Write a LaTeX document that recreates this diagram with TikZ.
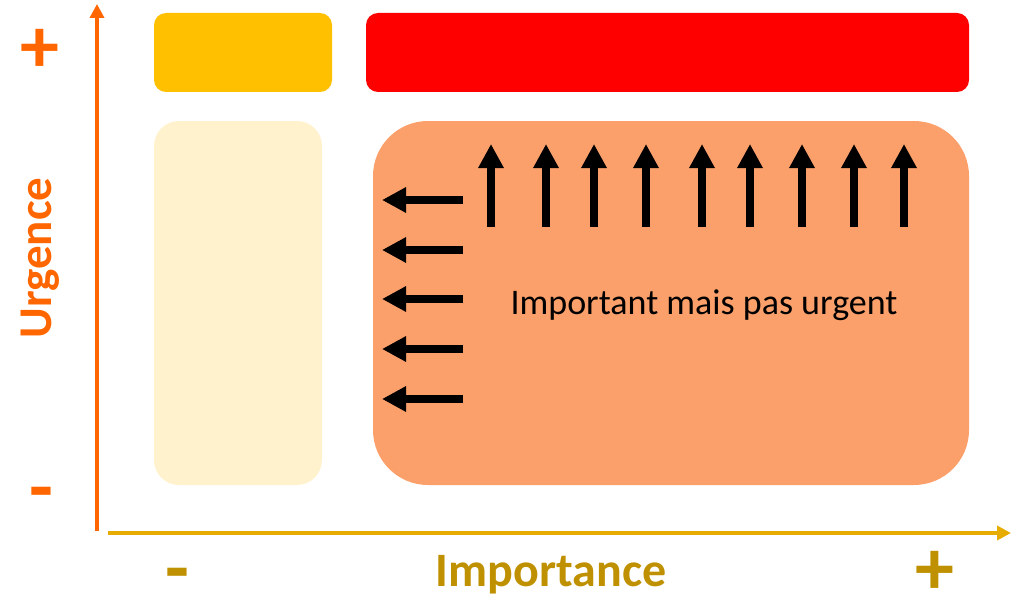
\documentclass[tikz,border=0pt]{standalone}
\usepackage{fontspec}
\setmainfont{Carlito}
\usetikzlibrary{arrows.meta}
\definecolor{axisV}{HTML}{FF6600}
\definecolor{axisH}{HTML}{E6AC00}
\definecolor{labH}{HTML}{BF9000}
\definecolor{boxY}{HTML}{FFC000}
\definecolor{boxR}{HTML}{FF0000}
\definecolor{boxL}{HTML}{FFF2CC}
\definecolor{boxO}{HTML}{FBA06A}
\tikzset{
  blackarrow/.style={line width=8pt,-{Triangle[width=24pt,length=24pt]}},
  axisarrow/.style={line width=4pt,-{Triangle[width=14pt,length=14pt]}},
  vlab/.style={text=axisV,font=\bfseries\fontsize{47}{47}\selectfont},
  hlab/.style={text=labH,font=\bfseries\fontsize{48}{48}\selectfont},
  vsign/.style={text=axisV,inner sep=0pt,font=\bfseries\fontsize{78}{78}\selectfont},
  hsign/.style={text=labH,inner sep=0pt,font=\bfseries\fontsize{78}{78}\selectfont},
}
\begin{document}
\begin{tikzpicture}[x=1pt,y=-1pt]
\useasboundingbox (0,0) rectangle (1024,599);
% boxes
\fill[boxY,rounded corners=12pt] (154,13) rectangle (332,92);
\fill[boxR,rounded corners=12pt] (366,13) rectangle (969,92);
\fill[boxL,rounded corners=25pt] (154,121) rectangle (322,485);
\fill[boxO,rounded corners=55pt] (373,121) rectangle (969,485);
% axes
\coordinate (vs) at (97,531);
\coordinate (ve) at (97,4);
\coordinate (hs) at (108,533);
\coordinate (he) at (1011,533);
\draw[axisarrow,axisV] (vs) -- (ve);
\draw[axisarrow,axisH] (hs) -- (he);
% up arrows
\foreach \x/\n in {491/1,546/2,594/3,646/4,702/5,750/6,802/7,854/8,904/9}{
  \coordinate (u\n s) at (\x,227);
  \coordinate (u\n e) at (\x,144);
  \draw[blackarrow] (u\n s) -- (u\n e);
}
% left arrows
\foreach \y/\n in {200/1,250/2,299/3,349/4,399/5}{
  \coordinate (l\n s) at (463,\y);
  \coordinate (l\n e) at (382,\y);
  \draw[blackarrow] (l\n s) -- (l\n e);
}
\node[font=\fontsize{36}{36}\selectfont] (txt) at (704,305) {Important mais pas urgent};
% labels
\node[vlab,rotate=90] (urg) at (40,258) {Urgence};
\node[vsign] (vp) at (40,51) {+};
\node[vsign] (vm) at (41,500) {-};
\node[hlab] (imp) at (551,575) {Importance};
\node[hsign] (hm) at (177,581) {-};
\node[hsign] (hp) at (935,573) {+};
\end{tikzpicture}
\end{document}
